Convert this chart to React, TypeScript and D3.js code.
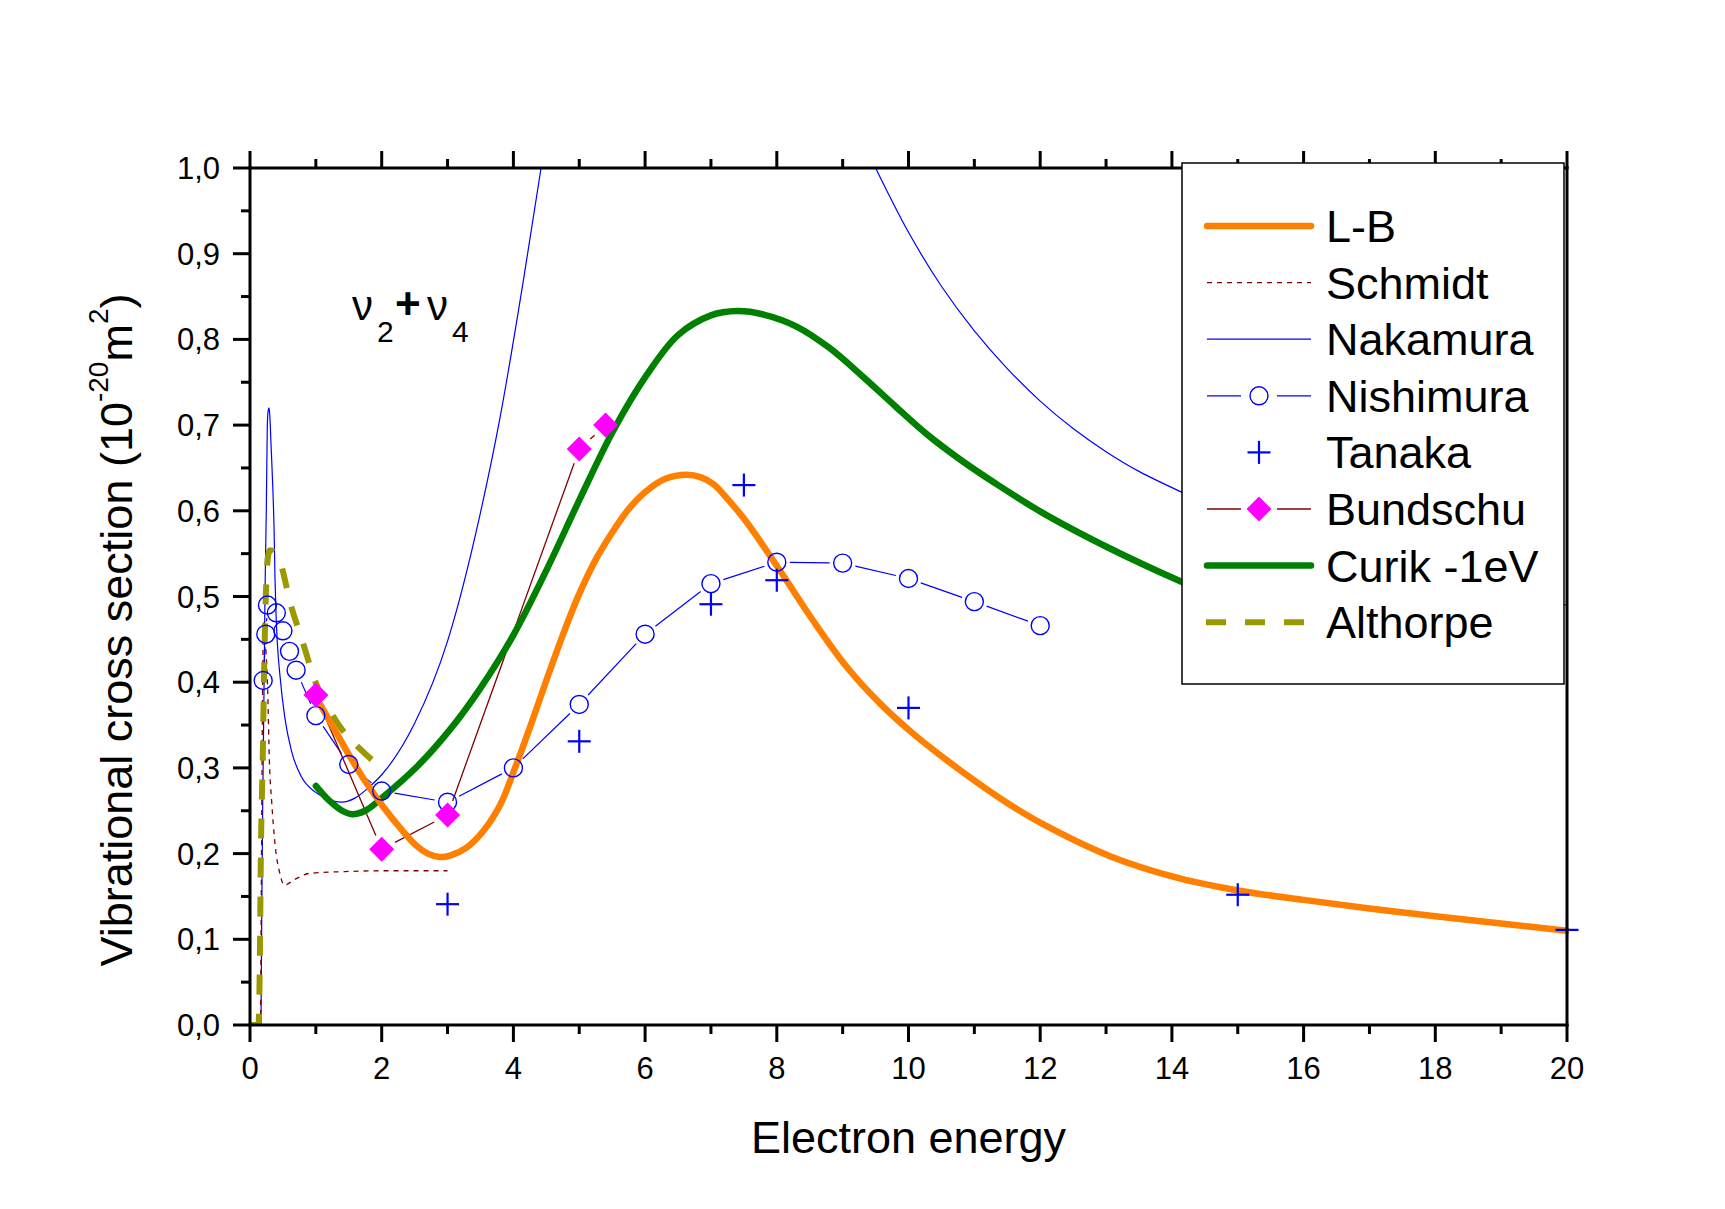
import React from 'react';
import * as d3 from 'd3';

type P = [number, number];

// ---------- axes ----------
const xDomain: P = [0, 20];
const yDomain: P = [0, 1];
const xMajorTicks = [0, 2, 4, 6, 8, 10, 12, 14, 16, 18, 20];
const xMinorTicks = [1, 3, 5, 7, 9, 11, 13, 15, 17, 19];
const yMajorTicks = [0, 0.1, 0.2, 0.3, 0.4, 0.5, 0.6, 0.7, 0.8, 0.9, 1.0];
const yMinorTicks = [0.05, 0.15, 0.25, 0.35, 0.45, 0.55, 0.65, 0.75, 0.85, 0.95];
const yTickLabels = ['0,0', '0,1', '0,2', '0,3', '0,4', '0,5', '0,6', '0,7', '0,8', '0,9', '1,0'];
const xTickLabels = ['0', '2', '4', '6', '8', '10', '12', '14', '16', '18', '20'];

// ---------- series ----------
const lbData: P[] = [
  [1.0, 0.383], [1.32, 0.34], [1.52, 0.313], [1.77, 0.282], [2.02, 0.255], [2.28, 0.23],
  [2.53, 0.209], [2.7, 0.2], [2.88, 0.196], [3.05, 0.198], [3.29, 0.207], [3.54, 0.226],
  [3.8, 0.257], [4.0, 0.295], [4.25, 0.347], [4.5, 0.402], [4.75, 0.455], [5.0, 0.503],
  [5.25, 0.543], [5.52, 0.577], [5.75, 0.602], [6.02, 0.623], [6.3, 0.637], [6.63, 0.642],
  [6.85, 0.639], [7.04, 0.631], [7.25, 0.614], [7.54, 0.587], [8.05, 0.53], [8.55, 0.472],
  [9.06, 0.418], [9.57, 0.375], [10.07, 0.34], [10.58, 0.309], [11.04, 0.283], [11.5, 0.259],
  [12.05, 0.234], [13.06, 0.197], [14.12, 0.171], [15.0, 0.157], [16.0, 0.146], [17.0, 0.136],
  [18.0, 0.127], [20.0, 0.11],
];

const schmidtData: P[] = [
  [0.16, 0], [0.175, 0.2], [0.19, 0.38], [0.2, 0.45], [0.215, 0.47], [0.24, 0.44], [0.268, 0.392],
  [0.294, 0.309], [0.33, 0.26], [0.38, 0.211], [0.456, 0.176], [0.52, 0.163], [0.66, 0.169],
  [0.91, 0.177], [1.44, 0.179], [2.0, 0.18], [3.0, 0.18],
];

const nakamuraLow: P[] = [
  [0.167, 0], [0.177, 0.113], [0.193, 0.26], [0.208, 0.358], [0.218, 0.431], [0.228, 0.505],
  [0.248, 0.603], [0.263, 0.7], [0.275, 0.716], [0.289, 0.72], [0.3, 0.712], [0.32, 0.676],
  [0.345, 0.63], [0.365, 0.58], [0.38, 0.52], [0.395, 0.48], [0.415, 0.446], [0.456, 0.407],
  [0.53, 0.358], [0.633, 0.319], [0.785, 0.289], [0.987, 0.272], [1.14, 0.265], [1.39, 0.26],
  [1.6, 0.265], [1.8, 0.277], [2.0, 0.292], [2.5, 0.352], [3.0, 0.448], [3.5, 0.598],
  [3.8, 0.71], [4.15, 0.868], [4.42, 1.0],
];
const nakamuraHigh: P[] = [
  [9.5, 1.0], [10.0, 0.925], [10.5, 0.862], [11.0, 0.81], [11.5, 0.766], [12.0, 0.728],
  [12.5, 0.696], [13.0, 0.669], [13.5, 0.646], [14.17, 0.621], [15.0, 0.593], [16.0, 0.565],
  [18.0, 0.522], [20.0, 0.49],
];

const nishimuraData: P[] = [
  [0.2, 0.402], [0.24, 0.456], [0.265, 0.49], [0.4, 0.481], [0.5, 0.46], [0.6, 0.436],
  [0.7, 0.414], [1.0, 0.361], [1.5, 0.304], [2.0, 0.273], [3.0, 0.26], [4.0, 0.3],
  [5.0, 0.374], [6.0, 0.456], [7.0, 0.515], [8.0, 0.54], [9.0, 0.539], [10.0, 0.521],
  [11.0, 0.494], [12.0, 0.466],
];

const tanakaData: P[] = [
  [3.0, 0.141], [5.0, 0.331], [7.0, 0.491], [7.5, 0.63], [8.0, 0.519], [10.0, 0.37],
  [15.0, 0.152], [20.0, 0.111],
];

const bundschuData: P[] = [
  [1.0, 0.385], [2.0, 0.205], [3.0, 0.245], [5.0, 0.672], [5.4, 0.7],
];

const curikData: P[] = [
  [1.0, 0.279], [1.2, 0.262], [1.4, 0.25], [1.55, 0.246], [1.75, 0.25], [2.02, 0.266],
  [2.53, 0.301], [3.04, 0.345], [3.49, 0.392], [4.0, 0.455], [4.51, 0.532], [5.01, 0.614],
  [5.52, 0.694], [6.02, 0.758], [6.5, 0.805], [7.0, 0.828], [7.4, 0.833], [7.8, 0.829],
  [8.3, 0.815], [8.8, 0.79], [9.3, 0.757], [9.8, 0.722], [10.3, 0.688], [10.8, 0.659],
  [11.3, 0.633], [12.05, 0.597], [13.06, 0.556], [14.12, 0.518], [14.8, 0.496],
];

const althorpeData: P[] = [
  [0.0, 0.0], [0.13, 0.0], [0.147, 0.06], [0.167, 0.21], [0.193, 0.309], [0.213, 0.407],
  [0.238, 0.495], [0.278, 0.549], [0.3, 0.554], [0.456, 0.54], [0.62, 0.49], [0.8, 0.447],
  [0.99, 0.401], [1.28, 0.358], [1.77, 0.315], [2.0, 0.3],
];

const legendNames = ['L-B', 'Schmidt', 'Nakamura', 'Nishimura', 'Tanaka', 'Bundschu', 'Curik -1eV', 'Althorpe'];

// ---------- styles ----------
const C = {
  orange: '#ff8000',
  darkRed: '#800000',
  blue: '#0000ff',
  magenta: '#ff00ff',
  green: '#008000',
  olive: '#9a9a00',
};
const FONT = '"Liberation Sans", Arial, Helvetica, sans-serif';

const W = 1725;
const H = 1209;
const PL = 250, PR = 1567, PT = 168, PB = 1025;

function gapped(px: P[], gap: number): [number, number, number, number][] {
  const out: [number, number, number, number][] = [];
  for (let i = 0; i < px.length - 1; i++) {
    const [x1, y1] = px[i];
    const [x2, y2] = px[i + 1];
    const dx = x2 - x1, dy = y2 - y1;
    const L = Math.hypot(dx, dy);
    if (L <= 2 * gap + 1) continue;
    const ux = dx / L, uy = dy / L;
    out.push([x1 + ux * gap, y1 + uy * gap, x2 - ux * gap, y2 - uy * gap]);
  }
  return out;
}

function Diamond({ cx, cy, r }: { cx: number; cy: number; r: number }) {
  return <path d={`M${cx},${cy - r}L${cx + r},${cy}L${cx},${cy + r}L${cx - r},${cy}Z`} fill={C.magenta} />;
}
function Plus({ cx, cy, r }: { cx: number; cy: number; r: number }) {
  return (
    <g stroke={C.blue} strokeWidth={2.2}>
      <line x1={cx - r} y1={cy} x2={cx + r} y2={cy} />
      <line x1={cx} y1={cy - r} x2={cx} y2={cy + r} />
    </g>
  );
}

export default function App() {
  const x = d3.scaleLinear().domain(xDomain).range([PL, PR]);
  const y = d3.scaleLinear().domain(yDomain).range([PB, PT]);
  const spiky = d3.line<P>().x((d) => x(d[0])).y((d) => y(d[1])).curve(d3.curveMonotoneX);
  const smooth = d3.line<P>().x((d) => x(d[0])).y((d) => y(d[1])).curve(d3.curveCatmullRom.alpha(0.5));
  const toPx = (arr: P[]): P[] => arr.map((d) => [x(d[0]), y(d[1])] as P);

  const nishPx = toPx(nishimuraData);
  const bundPx = toPx(bundschuData);
  const tanPx = toPx(tanakaData);

  const legendRowY = (i: number) => 226 + i * 56.6;
  const LX1 = 1207, LX2 = 1311, LMID = 1259, LTX = 1326;

  return (
    <svg width={W} height={H} style={{ position: 'absolute', left: 0, top: 0, display: 'block', background: '#fff' }}
      fontFamily={FONT}>
      <rect x={0} y={0} width={W} height={H} fill="#fff" />
      <defs>
        <clipPath id="plotClip">
          <rect x={PL} y={PT - 2} width={PR - PL + 2} height={PB - PT + 2} />
        </clipPath>
      </defs>

      <g clipPath="url(#plotClip)" fill="none">
        {/* Nakamura */}
        <path d={spiky(nakamuraLow) || ''} stroke={C.blue} strokeWidth={1.2} />
        <path d={smooth(nakamuraHigh) || ''} stroke={C.blue} strokeWidth={1.2} />
        {/* Schmidt */}
        <path d={spiky(schmidtData) || ''} stroke={C.darkRed} strokeWidth={1.3} strokeDasharray="5,5" />
        {/* Nishimura line with gaps */}
        {gapped(nishPx, 13).map((s, i) => (
          <line key={'nl' + i} x1={s[0]} y1={s[1]} x2={s[2]} y2={s[3]} stroke={C.blue} strokeWidth={1.2} />
        ))}
        {/* Bundschu line with gaps */}
        {gapped(bundPx, 15).map((s, i) => (
          <line key={'bl' + i} x1={s[0]} y1={s[1]} x2={s[2]} y2={s[3]} stroke={C.darkRed} strokeWidth={1.3} />
        ))}
        {/* Althorpe */}
        <path d={spiky(althorpeData) || ''} stroke={C.olive} strokeWidth={6} strokeDasharray="20,19" />
        {/* Curik */}
        <path d={smooth(curikData) || ''} stroke={C.green} strokeWidth={6.5} strokeLinecap="round" />
        {/* L-B */}
        <path d={smooth(lbData) || ''} stroke={C.orange} strokeWidth={6.5} strokeLinecap="round" />
        {/* Nishimura markers */}
        {nishPx.map((p, i) => (
          <circle key={'nc' + i} cx={p[0]} cy={p[1]} r={9} fill="none" stroke={C.blue} strokeWidth={1.4} />
        ))}
        {/* Bundschu markers */}
        {bundPx.map((p, i) => <Diamond key={'bd' + i} cx={p[0]} cy={p[1]} r={12.5} />)}
      </g>
      {/* Tanaka markers */}
      {tanPx.map((p, i) => <Plus key={'tp' + i} cx={p[0]} cy={p[1]} r={11.5} />)}

      {/* axes */}
      <g stroke="#000" strokeWidth={3} strokeLinecap="square" fill="none">
        <line x1={PL} y1={PB} x2={PR} y2={PB} />
        <line x1={PL} y1={PT} x2={PR} y2={PT} />
        <line x1={PL} y1={PT} x2={PL} y2={PB} />
        <line x1={PR} y1={PT} x2={PR} y2={PB} />
      </g>
      <g stroke="#000" strokeWidth={3}>
        {xMajorTicks.map((t) => (
          <g key={'xm' + t}>
            <line x1={x(t)} y1={PB} x2={x(t)} y2={PB + 17} />
            <line x1={x(t)} y1={PT} x2={x(t)} y2={PT - 17} />
          </g>
        ))}
        {xMinorTicks.map((t) => (
          <g key={'xn' + t}>
            <line x1={x(t)} y1={PB} x2={x(t)} y2={PB + 9} />
            <line x1={x(t)} y1={PT} x2={x(t)} y2={PT - 9} />
          </g>
        ))}
        {yMajorTicks.map((t) => (
          <line key={'ym' + t} x1={PL} y1={y(t)} x2={PL - 17} y2={y(t)} />
        ))}
        {yMinorTicks.map((t) => (
          <line key={'yn' + t} x1={PL} y1={y(t)} x2={PL - 9} y2={y(t)} />
        ))}
      </g>
      <g fontSize={31} fill="#000">
        {xMajorTicks.map((t, i) => (
          <text key={'xl' + t} x={x(t)} y={PB + 54} textAnchor="middle">{xTickLabels[i]}</text>
        ))}
        {yMajorTicks.map((t, i) => (
          <text key={'yl' + t} x={PL - 30} y={y(t) + 11} textAnchor="end">{yTickLabels[i]}</text>
        ))}
      </g>

      {/* axis titles */}
      <text x={(PL + PR) / 2} y={1153} textAnchor="middle" fontSize={45} fill="#000">Electron energy</text>
      <text transform="translate(132,630) rotate(-90)" textAnchor="middle" fontSize={45} fill="#000">
        Vibrational cross section (10<tspan fontSize={28} dy={-24}>-20</tspan><tspan dy={24}>m</tspan><tspan fontSize={28} dy={-24}>2</tspan><tspan dy={24}>)</tspan>
      </text>

      {/* annotation */}
      <g fill="#000">
        <text x={352} y={320} fontSize={42}>ν</text>
        <text x={377} y={342} fontSize={30}>2</text>
        <text x={395} y={319} fontSize={44} fontWeight="bold">+</text>
        <text x={427} y={320} fontSize={42}>ν</text>
        <text x={452} y={342} fontSize={30}>4</text>
      </g>

      {/* legend */}
      <rect x={1182} y={163} width={382} height={521} fill="#fff" stroke="#000" strokeWidth={1.5} />
      <g>
        <line x1={LX1} y1={legendRowY(0)} x2={LX2} y2={legendRowY(0)} stroke={C.orange} strokeWidth={6.5} strokeLinecap="round" />
        <line x1={LX1} y1={legendRowY(1)} x2={LX2} y2={legendRowY(1)} stroke={C.darkRed} strokeWidth={1.3} strokeDasharray="5,5" />
        <line x1={LX1} y1={legendRowY(2)} x2={LX2} y2={legendRowY(2)} stroke={C.blue} strokeWidth={1.2} />
        <line x1={LX1} y1={legendRowY(3)} x2={1241} y2={legendRowY(3)} stroke={C.blue} strokeWidth={1.2} />
        <line x1={1277} y1={legendRowY(3)} x2={LX2} y2={legendRowY(3)} stroke={C.blue} strokeWidth={1.2} />
        <circle cx={LMID} cy={legendRowY(3)} r={9} fill="none" stroke={C.blue} strokeWidth={1.4} />
        <Plus cx={LMID} cy={legendRowY(4)} r={11.5} />
        <line x1={LX1} y1={legendRowY(5)} x2={1241} y2={legendRowY(5)} stroke={C.darkRed} strokeWidth={1.3} />
        <line x1={1277} y1={legendRowY(5)} x2={LX2} y2={legendRowY(5)} stroke={C.darkRed} strokeWidth={1.3} />
        <Diamond cx={LMID} cy={legendRowY(5)} r={12.5} />
        <line x1={LX1} y1={legendRowY(6)} x2={LX2} y2={legendRowY(6)} stroke={C.green} strokeWidth={6.5} strokeLinecap="round" />
        <line x1={1206} y1={legendRowY(7)} x2={1306} y2={legendRowY(7)} stroke={C.olive} strokeWidth={6} strokeDasharray="20,19" />
        {legendNames.map((n, i) => (
          <text key={n} x={LTX} y={legendRowY(i) + 16} fontSize={45} fill="#000">{n}</text>
        ))}
      </g>
    </svg>
  );
}
